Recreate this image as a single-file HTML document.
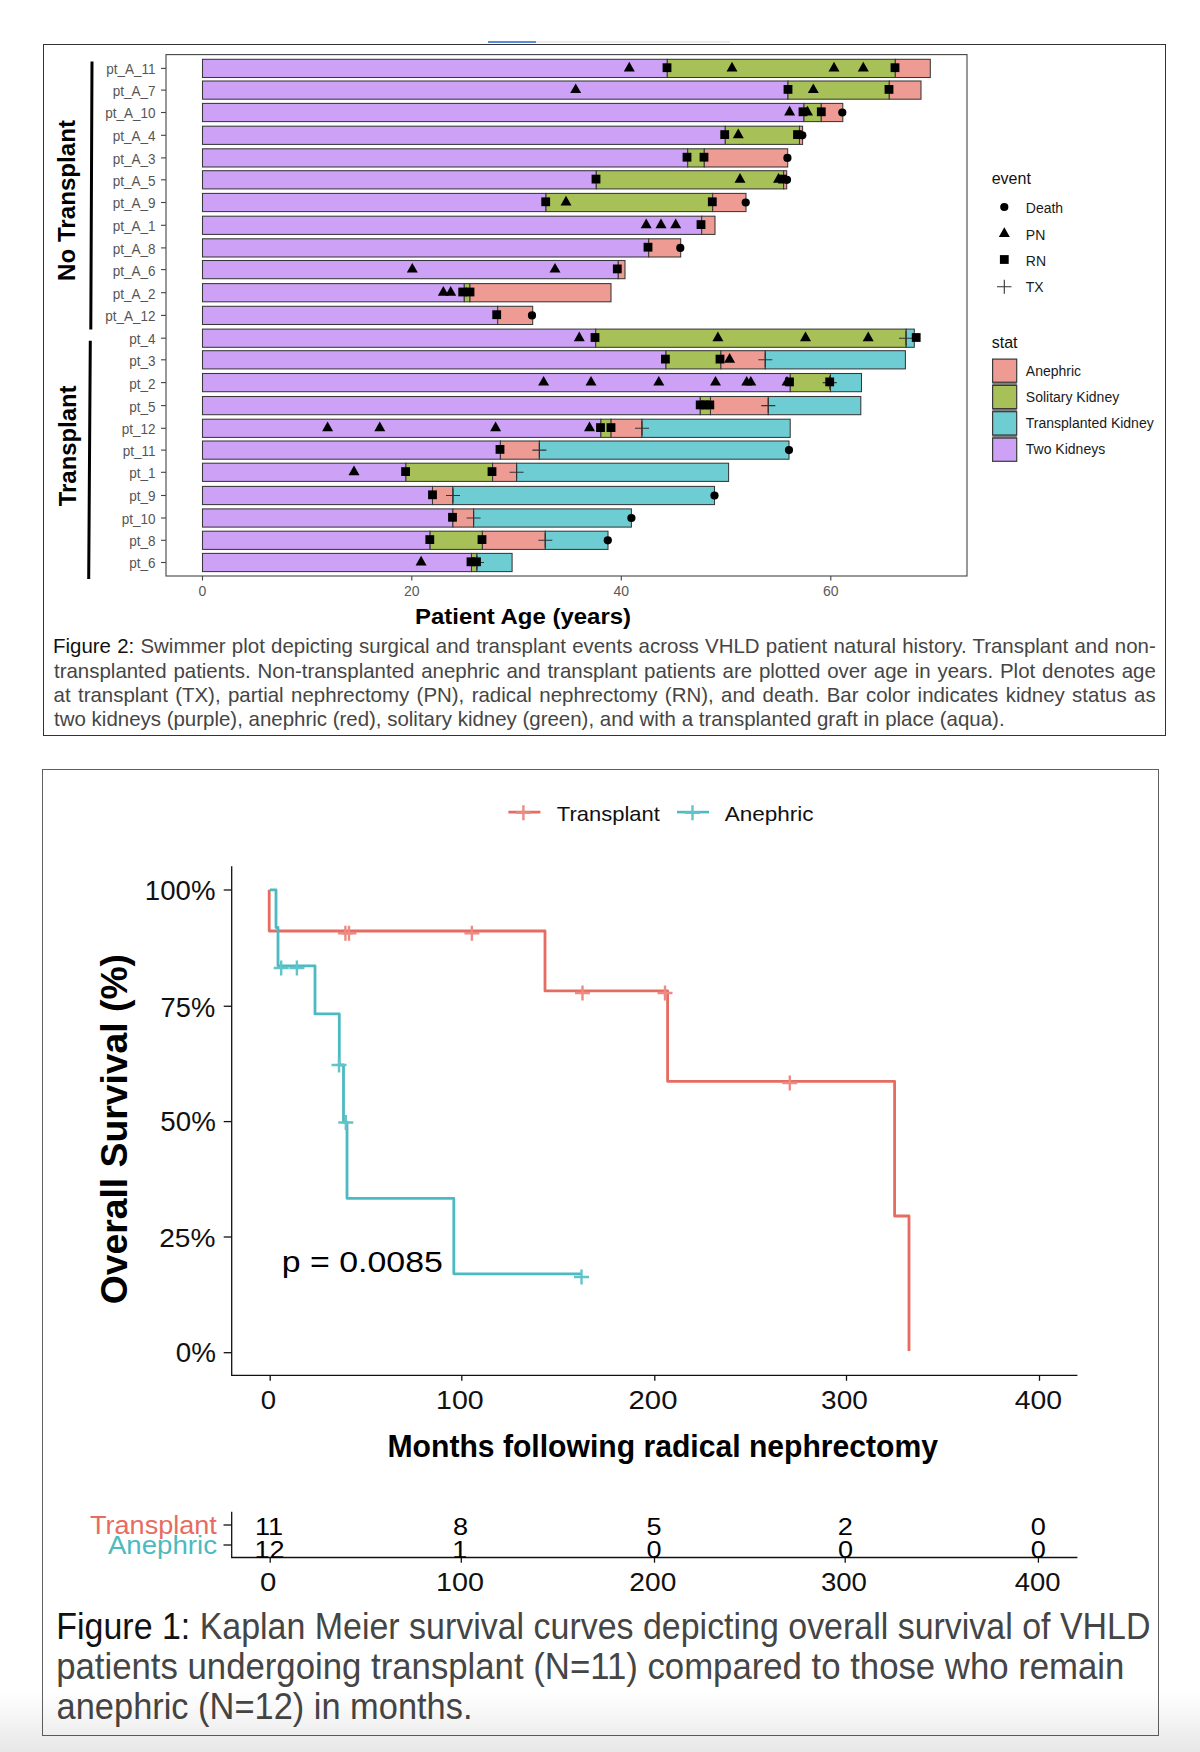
<!DOCTYPE html>
<html><head><meta charset="utf-8"><title>Figures</title>
<style>
html,body{margin:0;padding:0;background:#fff;}
body{width:1200px;height:1752px;position:relative;overflow:hidden;}
svg{position:absolute;left:0;top:0;}
text{font-family:"Liberation Sans",sans-serif;}
.yt{font-size:14px;fill:#555;}
.xt{font-size:14px;fill:#5a5a5a;}
.xtitle{font-size:22.6px;font-weight:bold;fill:#000;}
.grp{font-size:24px;font-weight:bold;fill:#000;}
.lt{font-size:16px;fill:#111;}
.ll{font-size:14px;fill:#1a1a1a;}
.kt{font-size:23px;fill:#111;}
.kl{font-size:21px;fill:#111;}
.pv{font-size:26.5px;fill:#000;}
.kxt{font-size:30px;font-weight:bold;fill:#000;}
.kyt{font-size:37px;font-weight:bold;fill:#000;}
.rl{font-size:25px;}
.rn{font-size:25px;fill:#000;}
.box{position:absolute;box-sizing:border-box;}
.capt{font-family:"Liberation Sans",sans-serif;fill:#454545;white-space:pre;}
.capb{fill:#111;}
</style></head><body>

<div class="box" style="left:488px;top:41px;width:48px;height:2px;background:#5a8fd8;"></div>
<div class="box" style="left:536px;top:41px;width:194px;height:1.5px;background:#ececec;"></div>
<div class="box" style="left:42.5px;top:43.5px;width:1123.5px;height:692.5px;border:1.4px solid #333;"></div>
<div class="box" style="left:42px;top:768.5px;width:1117.2px;height:967.5px;border:1.3px solid #606060;"></div>
<svg width="1200" height="1752" viewBox="0 0 1200 1752">
<rect x="166" y="54.6" width="801" height="521.4" fill="none" stroke="#444" stroke-width="1.1"/>
<rect x="202.5" y="59.3" width="464.8" height="18.2" fill="#cca1f6" stroke="#383838" stroke-width="1.05"/>
<rect x="667.3" y="59.3" width="228" height="18.2" fill="#a7c057" stroke="#383838" stroke-width="1.05"/>
<rect x="895.3" y="59.3" width="35" height="18.2" fill="#ee9c93" stroke="#383838" stroke-width="1.05"/>
<line x1="161" y1="68.4" x2="166" y2="68.4" stroke="#444" stroke-width="1.1"/>
<text transform="translate(155.6,74.3) scale(0.965,1)" text-anchor="end" class="yt">pt_A_11</text>
<rect x="202.5" y="81" width="585.5" height="18.2" fill="#cca1f6" stroke="#383838" stroke-width="1.05"/>
<rect x="788" y="81" width="101.3" height="18.2" fill="#a7c057" stroke="#383838" stroke-width="1.05"/>
<rect x="889.3" y="81" width="31.7" height="18.2" fill="#ee9c93" stroke="#383838" stroke-width="1.05"/>
<line x1="161" y1="90.1" x2="166" y2="90.1" stroke="#444" stroke-width="1.1"/>
<text transform="translate(155.6,96) scale(0.965,1)" text-anchor="end" class="yt">pt_A_7</text>
<rect x="202.5" y="103.4" width="601.5" height="18.2" fill="#cca1f6" stroke="#383838" stroke-width="1.05"/>
<rect x="804" y="103.4" width="17.3" height="18.2" fill="#a7c057" stroke="#383838" stroke-width="1.05"/>
<rect x="821.3" y="103.4" width="21.5" height="18.2" fill="#ee9c93" stroke="#383838" stroke-width="1.05"/>
<line x1="161" y1="112.5" x2="166" y2="112.5" stroke="#444" stroke-width="1.1"/>
<text transform="translate(155.6,118.4) scale(0.965,1)" text-anchor="end" class="yt">pt_A_10</text>
<rect x="202.5" y="126.2" width="522.8" height="18.2" fill="#cca1f6" stroke="#383838" stroke-width="1.05"/>
<rect x="725.3" y="126.2" width="74.2" height="18.2" fill="#a7c057" stroke="#383838" stroke-width="1.05"/>
<rect x="799.5" y="126.2" width="3.1" height="18.2" fill="#ee9c93" stroke="#383838" stroke-width="1.05"/>
<line x1="161" y1="135.3" x2="166" y2="135.3" stroke="#444" stroke-width="1.1"/>
<text transform="translate(155.6,141.2) scale(0.965,1)" text-anchor="end" class="yt">pt_A_4</text>
<rect x="202.5" y="148.8" width="485.2" height="18.2" fill="#cca1f6" stroke="#383838" stroke-width="1.05"/>
<rect x="687.7" y="148.8" width="16.6" height="18.2" fill="#a7c057" stroke="#383838" stroke-width="1.05"/>
<rect x="704.3" y="148.8" width="83.4" height="18.2" fill="#ee9c93" stroke="#383838" stroke-width="1.05"/>
<line x1="161" y1="157.9" x2="166" y2="157.9" stroke="#444" stroke-width="1.1"/>
<text transform="translate(155.6,163.8) scale(0.965,1)" text-anchor="end" class="yt">pt_A_3</text>
<rect x="202.5" y="170.7" width="393.8" height="18.2" fill="#cca1f6" stroke="#383838" stroke-width="1.05"/>
<rect x="596.3" y="170.7" width="187.3" height="18.2" fill="#a7c057" stroke="#383838" stroke-width="1.05"/>
<rect x="783.6" y="170.7" width="3.1" height="18.2" fill="#ee9c93" stroke="#383838" stroke-width="1.05"/>
<line x1="161" y1="179.8" x2="166" y2="179.8" stroke="#444" stroke-width="1.1"/>
<text transform="translate(155.6,185.7) scale(0.965,1)" text-anchor="end" class="yt">pt_A_5</text>
<rect x="202.5" y="193.4" width="343.5" height="18.2" fill="#cca1f6" stroke="#383838" stroke-width="1.05"/>
<rect x="546" y="193.4" width="166.7" height="18.2" fill="#a7c057" stroke="#383838" stroke-width="1.05"/>
<rect x="712.7" y="193.4" width="33.3" height="18.2" fill="#ee9c93" stroke="#383838" stroke-width="1.05"/>
<line x1="161" y1="202.5" x2="166" y2="202.5" stroke="#444" stroke-width="1.1"/>
<text transform="translate(155.6,208.4) scale(0.965,1)" text-anchor="end" class="yt">pt_A_9</text>
<rect x="202.5" y="216.2" width="499.2" height="18.2" fill="#cca1f6" stroke="#383838" stroke-width="1.05"/>
<rect x="701.7" y="216.2" width="13.3" height="18.2" fill="#ee9c93" stroke="#383838" stroke-width="1.05"/>
<line x1="161" y1="225.3" x2="166" y2="225.3" stroke="#444" stroke-width="1.1"/>
<text transform="translate(155.6,231.2) scale(0.965,1)" text-anchor="end" class="yt">pt_A_1</text>
<rect x="202.5" y="238.8" width="446.2" height="18.2" fill="#cca1f6" stroke="#383838" stroke-width="1.05"/>
<rect x="648.7" y="238.8" width="32" height="18.2" fill="#ee9c93" stroke="#383838" stroke-width="1.05"/>
<line x1="161" y1="247.9" x2="166" y2="247.9" stroke="#444" stroke-width="1.1"/>
<text transform="translate(155.6,253.8) scale(0.965,1)" text-anchor="end" class="yt">pt_A_8</text>
<rect x="202.5" y="260.5" width="415.8" height="18.2" fill="#cca1f6" stroke="#383838" stroke-width="1.05"/>
<rect x="618.3" y="260.5" width="6.7" height="18.2" fill="#ee9c93" stroke="#383838" stroke-width="1.05"/>
<line x1="161" y1="269.6" x2="166" y2="269.6" stroke="#444" stroke-width="1.1"/>
<text transform="translate(155.6,275.5) scale(0.965,1)" text-anchor="end" class="yt">pt_A_6</text>
<rect x="202.5" y="283.6" width="261.8" height="18.2" fill="#cca1f6" stroke="#383838" stroke-width="1.05"/>
<rect x="464.3" y="283.6" width="5.7" height="18.2" fill="#a7c057" stroke="#383838" stroke-width="1.05"/>
<rect x="470" y="283.6" width="141" height="18.2" fill="#ee9c93" stroke="#383838" stroke-width="1.05"/>
<line x1="161" y1="292.7" x2="166" y2="292.7" stroke="#444" stroke-width="1.1"/>
<text transform="translate(155.6,298.6) scale(0.965,1)" text-anchor="end" class="yt">pt_A_2</text>
<rect x="202.5" y="306.3" width="295.2" height="18.2" fill="#cca1f6" stroke="#383838" stroke-width="1.05"/>
<rect x="497.7" y="306.3" width="35" height="18.2" fill="#ee9c93" stroke="#383838" stroke-width="1.05"/>
<line x1="161" y1="315.4" x2="166" y2="315.4" stroke="#444" stroke-width="1.1"/>
<text transform="translate(155.6,321.3) scale(0.965,1)" text-anchor="end" class="yt">pt_A_12</text>
<rect x="202.5" y="329.1" width="393.2" height="18.2" fill="#cca1f6" stroke="#383838" stroke-width="1.05"/>
<rect x="595.7" y="329.1" width="310.5" height="18.2" fill="#a7c057" stroke="#383838" stroke-width="1.05"/>
<rect x="906.2" y="329.1" width="8.1" height="18.2" fill="#6dcdd3" stroke="#383838" stroke-width="1.05"/>
<line x1="161" y1="338.2" x2="166" y2="338.2" stroke="#444" stroke-width="1.1"/>
<text transform="translate(155.6,344.1) scale(0.965,1)" text-anchor="end" class="yt">pt_4</text>
<rect x="202.5" y="350.7" width="463.5" height="18.2" fill="#cca1f6" stroke="#383838" stroke-width="1.05"/>
<rect x="666" y="350.7" width="54.9" height="18.2" fill="#a7c057" stroke="#383838" stroke-width="1.05"/>
<rect x="720.9" y="350.7" width="44.4" height="18.2" fill="#ee9c93" stroke="#383838" stroke-width="1.05"/>
<rect x="765.3" y="350.7" width="140.1" height="18.2" fill="#6dcdd3" stroke="#383838" stroke-width="1.05"/>
<line x1="161" y1="359.8" x2="166" y2="359.8" stroke="#444" stroke-width="1.1"/>
<text transform="translate(155.6,365.7) scale(0.965,1)" text-anchor="end" class="yt">pt_3</text>
<rect x="202.5" y="373.5" width="587.8" height="18.2" fill="#cca1f6" stroke="#383838" stroke-width="1.05"/>
<rect x="790.3" y="373.5" width="40.2" height="18.2" fill="#a7c057" stroke="#383838" stroke-width="1.05"/>
<rect x="830.5" y="373.5" width="31" height="18.2" fill="#6dcdd3" stroke="#383838" stroke-width="1.05"/>
<line x1="161" y1="382.6" x2="166" y2="382.6" stroke="#444" stroke-width="1.1"/>
<text transform="translate(155.6,388.5) scale(0.965,1)" text-anchor="end" class="yt">pt_2</text>
<rect x="202.5" y="396.5" width="497.8" height="18.2" fill="#cca1f6" stroke="#383838" stroke-width="1.05"/>
<rect x="700.3" y="396.5" width="10.2" height="18.2" fill="#a7c057" stroke="#383838" stroke-width="1.05"/>
<rect x="710.5" y="396.5" width="57.8" height="18.2" fill="#ee9c93" stroke="#383838" stroke-width="1.05"/>
<rect x="768.3" y="396.5" width="92.5" height="18.2" fill="#6dcdd3" stroke="#383838" stroke-width="1.05"/>
<line x1="161" y1="405.6" x2="166" y2="405.6" stroke="#444" stroke-width="1.1"/>
<text transform="translate(155.6,411.5) scale(0.965,1)" text-anchor="end" class="yt">pt_5</text>
<rect x="202.5" y="419.2" width="398.4" height="18.2" fill="#cca1f6" stroke="#383838" stroke-width="1.05"/>
<rect x="600.9" y="419.2" width="10.2" height="18.2" fill="#a7c057" stroke="#383838" stroke-width="1.05"/>
<rect x="611.1" y="419.2" width="30.9" height="18.2" fill="#ee9c93" stroke="#383838" stroke-width="1.05"/>
<rect x="642" y="419.2" width="148.2" height="18.2" fill="#6dcdd3" stroke="#383838" stroke-width="1.05"/>
<line x1="161" y1="428.3" x2="166" y2="428.3" stroke="#444" stroke-width="1.1"/>
<text transform="translate(155.6,434.2) scale(0.965,1)" text-anchor="end" class="yt">pt_12</text>
<rect x="202.5" y="441" width="297.9" height="18.2" fill="#cca1f6" stroke="#383838" stroke-width="1.05"/>
<rect x="500.4" y="441" width="39" height="18.2" fill="#ee9c93" stroke="#383838" stroke-width="1.05"/>
<rect x="539.4" y="441" width="249.6" height="18.2" fill="#6dcdd3" stroke="#383838" stroke-width="1.05"/>
<line x1="161" y1="450.1" x2="166" y2="450.1" stroke="#444" stroke-width="1.1"/>
<text transform="translate(155.6,456) scale(0.965,1)" text-anchor="end" class="yt">pt_11</text>
<rect x="202.5" y="463.2" width="203.4" height="18.2" fill="#cca1f6" stroke="#383838" stroke-width="1.05"/>
<rect x="405.9" y="463.2" width="86.7" height="18.2" fill="#a7c057" stroke="#383838" stroke-width="1.05"/>
<rect x="492.6" y="463.2" width="24" height="18.2" fill="#ee9c93" stroke="#383838" stroke-width="1.05"/>
<rect x="516.6" y="463.2" width="212" height="18.2" fill="#6dcdd3" stroke="#383838" stroke-width="1.05"/>
<line x1="161" y1="472.3" x2="166" y2="472.3" stroke="#444" stroke-width="1.1"/>
<text transform="translate(155.6,478.2) scale(0.965,1)" text-anchor="end" class="yt">pt_1</text>
<rect x="202.5" y="486.4" width="230" height="18.2" fill="#cca1f6" stroke="#383838" stroke-width="1.05"/>
<rect x="432.5" y="486.4" width="20.4" height="18.2" fill="#ee9c93" stroke="#383838" stroke-width="1.05"/>
<rect x="452.9" y="486.4" width="261.6" height="18.2" fill="#6dcdd3" stroke="#383838" stroke-width="1.05"/>
<line x1="161" y1="495.5" x2="166" y2="495.5" stroke="#444" stroke-width="1.1"/>
<text transform="translate(155.6,501.4) scale(0.965,1)" text-anchor="end" class="yt">pt_9</text>
<rect x="202.5" y="508.9" width="250.4" height="18.2" fill="#cca1f6" stroke="#383838" stroke-width="1.05"/>
<rect x="452.9" y="508.9" width="20.7" height="18.2" fill="#ee9c93" stroke="#383838" stroke-width="1.05"/>
<rect x="473.6" y="508.9" width="157.8" height="18.2" fill="#6dcdd3" stroke="#383838" stroke-width="1.05"/>
<line x1="161" y1="518" x2="166" y2="518" stroke="#444" stroke-width="1.1"/>
<text transform="translate(155.6,523.9) scale(0.965,1)" text-anchor="end" class="yt">pt_10</text>
<rect x="202.5" y="531.2" width="227.6" height="18.2" fill="#cca1f6" stroke="#383838" stroke-width="1.05"/>
<rect x="430.1" y="531.2" width="52.3" height="18.2" fill="#a7c057" stroke="#383838" stroke-width="1.05"/>
<rect x="482.4" y="531.2" width="62.9" height="18.2" fill="#ee9c93" stroke="#383838" stroke-width="1.05"/>
<rect x="545.3" y="531.2" width="62.7" height="18.2" fill="#6dcdd3" stroke="#383838" stroke-width="1.05"/>
<line x1="161" y1="540.3" x2="166" y2="540.3" stroke="#444" stroke-width="1.1"/>
<text transform="translate(155.6,546.2) scale(0.965,1)" text-anchor="end" class="yt">pt_8</text>
<rect x="202.5" y="553.4" width="269" height="18.2" fill="#cca1f6" stroke="#383838" stroke-width="1.05"/>
<rect x="471.5" y="553.4" width="5.4" height="18.2" fill="#a7c057" stroke="#383838" stroke-width="1.05"/>
<rect x="476.9" y="553.4" width="35.2" height="18.2" fill="#6dcdd3" stroke="#383838" stroke-width="1.05"/>
<line x1="161" y1="562.5" x2="166" y2="562.5" stroke="#444" stroke-width="1.1"/>
<text transform="translate(155.6,568.4) scale(0.965,1)" text-anchor="end" class="yt">pt_6</text>
<path d="M623.8 71.4L629.3 61.7L634.8 71.4Z" fill="#000"/>
<rect x="662.6" y="63.3" width="8.8" height="8.8" fill="#000"/>
<path d="M726.5 71.4L732 61.7L737.5 71.4Z" fill="#000"/>
<path d="M828.5 71.4L834 61.7L839.5 71.4Z" fill="#000"/>
<path d="M857.8 71.4L863.3 61.7L868.8 71.4Z" fill="#000"/>
<rect x="890.6" y="63.3" width="8.8" height="8.8" fill="#000"/>
<path d="M570.2 93.1L575.7 83.4L581.2 93.1Z" fill="#000"/>
<rect x="783.6" y="85" width="8.8" height="8.8" fill="#000"/>
<path d="M807.8 93.1L813.3 83.4L818.8 93.1Z" fill="#000"/>
<rect x="884.6" y="85" width="8.8" height="8.8" fill="#000"/>
<path d="M784.1 115.5L789.6 105.8L795.1 115.5Z" fill="#000"/>
<rect x="798.6" y="107.4" width="8.8" height="8.8" fill="#000"/>
<path d="M802 115.5L807.5 105.8L813 115.5Z" fill="#000"/>
<rect x="816.9" y="107.4" width="8.8" height="8.8" fill="#000"/>
<circle cx="842.3" cy="112.5" r="4.1" fill="#000"/>
<rect x="720.3" y="130.2" width="8.8" height="8.8" fill="#000"/>
<path d="M732.8 138.3L738.3 128.6L743.8 138.3Z" fill="#000"/>
<rect x="793.1" y="130.2" width="8.8" height="8.8" fill="#000"/>
<circle cx="802.3" cy="135.3" r="4.1" fill="#000"/>
<rect x="682.6" y="152.8" width="8.8" height="8.8" fill="#000"/>
<rect x="699.6" y="152.8" width="8.8" height="8.8" fill="#000"/>
<circle cx="787.4" cy="157.9" r="4.1" fill="#000"/>
<rect x="591.6" y="174.7" width="8.8" height="8.8" fill="#000"/>
<path d="M734.5 182.8L740 173.1L745.5 182.8Z" fill="#000"/>
<path d="M773 182.8L778.5 173.1L784 182.8Z" fill="#000"/>
<rect x="778.1" y="174.7" width="8.8" height="8.8" fill="#000"/>
<circle cx="787" cy="179.8" r="4.1" fill="#000"/>
<rect x="541.3" y="197.4" width="8.8" height="8.8" fill="#000"/>
<path d="M560.5 205.5L566 195.8L571.5 205.5Z" fill="#000"/>
<rect x="707.9" y="197.4" width="8.8" height="8.8" fill="#000"/>
<circle cx="745.7" cy="202.5" r="4.1" fill="#000"/>
<path d="M640.7 228.3L646.2 218.6L651.7 228.3Z" fill="#000"/>
<path d="M655.5 228.3L661 218.6L666.5 228.3Z" fill="#000"/>
<path d="M670.2 228.3L675.7 218.6L681.2 228.3Z" fill="#000"/>
<rect x="696.6" y="220.2" width="8.8" height="8.8" fill="#000"/>
<rect x="643.6" y="242.8" width="8.8" height="8.8" fill="#000"/>
<circle cx="680.3" cy="247.9" r="4.1" fill="#000"/>
<path d="M406.8 272.6L412.3 262.9L417.8 272.6Z" fill="#000"/>
<path d="M549.5 272.6L555 262.9L560.5 272.6Z" fill="#000"/>
<rect x="612.9" y="264.5" width="8.8" height="8.8" fill="#000"/>
<path d="M437.8 295.7L443.3 286L448.8 295.7Z" fill="#000"/>
<path d="M445.2 295.7L450.7 286L456.2 295.7Z" fill="#000"/>
<rect x="458.3" y="287.6" width="8.8" height="8.8" fill="#000"/>
<rect x="465.6" y="287.6" width="8.8" height="8.8" fill="#000"/>
<rect x="492.3" y="310.3" width="8.8" height="8.8" fill="#000"/>
<circle cx="532" cy="315.4" r="4.1" fill="#000"/>
<path d="M899 338.2H913M906 331.2V345.2" stroke="#333" stroke-width="1.1" fill="none"/>
<path d="M573.8 341.2L579.3 331.5L584.8 341.2Z" fill="#000"/>
<rect x="590.6" y="333.1" width="8.8" height="8.8" fill="#000"/>
<path d="M712.4 341.2L717.9 331.5L723.4 341.2Z" fill="#000"/>
<path d="M800 341.2L805.5 331.5L811 341.2Z" fill="#000"/>
<path d="M862.7 341.2L868.2 331.5L873.7 341.2Z" fill="#000"/>
<rect x="911.8" y="333.1" width="8.8" height="8.8" fill="#000"/>
<path d="M758.3 359.8H772.3M765.3 352.8V366.8" stroke="#333" stroke-width="1.1" fill="none"/>
<rect x="661" y="354.7" width="8.8" height="8.8" fill="#000"/>
<rect x="715.6" y="354.7" width="8.8" height="8.8" fill="#000"/>
<path d="M724.1 362.8L729.6 353.1L735.1 362.8Z" fill="#000"/>
<path d="M822.7 382.6H836.7M829.7 375.6V389.6" stroke="#333" stroke-width="1.1" fill="none"/>
<path d="M538.1 385.6L543.6 375.9L549.1 385.6Z" fill="#000"/>
<path d="M585.5 385.6L591 375.9L596.5 385.6Z" fill="#000"/>
<path d="M653.3 385.6L658.8 375.9L664.3 385.6Z" fill="#000"/>
<path d="M710 385.6L715.5 375.9L721 385.6Z" fill="#000"/>
<path d="M741.2 385.6L746.7 375.9L752.2 385.6Z" fill="#000"/>
<path d="M745.3 385.6L750.8 375.9L756.3 385.6Z" fill="#000"/>
<path d="M781.5 385.6L787 375.9L792.5 385.6Z" fill="#000"/>
<rect x="785.1" y="377.5" width="8.8" height="8.8" fill="#000"/>
<rect x="825.3" y="377.5" width="8.8" height="8.8" fill="#000"/>
<path d="M761.3 405.6H775.3M768.3 398.6V412.6" stroke="#333" stroke-width="1.1" fill="none"/>
<rect x="695.8" y="400.5" width="8.8" height="8.8" fill="#000"/>
<rect x="700.6" y="400.5" width="8.8" height="8.8" fill="#000"/>
<rect x="705.4" y="400.5" width="8.8" height="8.8" fill="#000"/>
<path d="M635 428.3H649M642 421.3V435.3" stroke="#333" stroke-width="1.1" fill="none"/>
<path d="M322.1 431.3L327.6 421.6L333.1 431.3Z" fill="#000"/>
<path d="M374.3 431.3L379.8 421.6L385.3 431.3Z" fill="#000"/>
<path d="M490.1 431.3L495.6 421.6L501.1 431.3Z" fill="#000"/>
<path d="M584 431.3L589.5 421.6L595 431.3Z" fill="#000"/>
<rect x="596.1" y="423.2" width="8.8" height="8.8" fill="#000"/>
<rect x="606.6" y="423.2" width="8.8" height="8.8" fill="#000"/>
<path d="M532.4 450.1H546.4M539.4 443.1V457.1" stroke="#333" stroke-width="1.1" fill="none"/>
<rect x="495.6" y="445" width="8.8" height="8.8" fill="#000"/>
<circle cx="789" cy="450.1" r="4.1" fill="#000"/>
<path d="M509.6 472.3H523.6M516.6 465.3V479.3" stroke="#333" stroke-width="1.1" fill="none"/>
<path d="M348.5 475.3L354 465.6L359.5 475.3Z" fill="#000"/>
<rect x="401.2" y="467.2" width="8.8" height="8.8" fill="#000"/>
<rect x="487.6" y="467.2" width="8.8" height="8.8" fill="#000"/>
<path d="M446 495.5H460M453 488.5V502.5" stroke="#333" stroke-width="1.1" fill="none"/>
<rect x="428.1" y="490.4" width="8.8" height="8.8" fill="#000"/>
<circle cx="714.5" cy="495.5" r="4.1" fill="#000"/>
<path d="M466.6 518H480.6M473.6 511V525" stroke="#333" stroke-width="1.1" fill="none"/>
<rect x="448.1" y="512.9" width="8.8" height="8.8" fill="#000"/>
<circle cx="631.4" cy="518" r="4.1" fill="#000"/>
<path d="M538.3 540.3H552.3M545.3 533.3V547.3" stroke="#333" stroke-width="1.1" fill="none"/>
<rect x="425.4" y="535.2" width="8.8" height="8.8" fill="#000"/>
<rect x="477.6" y="535.2" width="8.8" height="8.8" fill="#000"/>
<circle cx="607.8" cy="540.3" r="4.1" fill="#000"/>
<path d="M470 562.5H484M477 555.5V569.5" stroke="#333" stroke-width="1.1" fill="none"/>
<path d="M415.6 565.5L421.1 555.8L426.6 565.5Z" fill="#000"/>
<rect x="466.6" y="557.4" width="8.8" height="8.8" fill="#000"/>
<rect x="472.1" y="557.4" width="8.8" height="8.8" fill="#000"/>
<line x1="202.5" y1="576" x2="202.5" y2="580.5" stroke="#444" stroke-width="1.1"/>
<text x="202.5" y="596" text-anchor="middle" class="xt">0</text>
<line x1="411.8" y1="576" x2="411.8" y2="580.5" stroke="#444" stroke-width="1.1"/>
<text x="411.8" y="596" text-anchor="middle" class="xt">20</text>
<line x1="621.3" y1="576" x2="621.3" y2="580.5" stroke="#444" stroke-width="1.1"/>
<text x="621.3" y="596" text-anchor="middle" class="xt">40</text>
<line x1="830.8" y1="576" x2="830.8" y2="580.5" stroke="#444" stroke-width="1.1"/>
<text x="830.8" y="596" text-anchor="middle" class="xt">60</text>
<text x="415" y="623.6" class="xtitle" textLength="216" lengthAdjust="spacingAndGlyphs">Patient Age (years)</text>
<text transform="translate(74.8,281) rotate(-90)" class="grp" textLength="161" lengthAdjust="spacingAndGlyphs">No Transplant</text>
<text transform="translate(75.6,506.2) rotate(-90)" class="grp" textLength="120.7" lengthAdjust="spacingAndGlyphs">Transplant</text>
<path d="M92 61.5L90.8 329.6M90.3 340.8L88.7 579" stroke="#000" stroke-width="3" fill="none"/>
<text x="991.7" y="184.2" class="lt">event</text>
<circle cx="1004.3" cy="207" r="4.1" fill="#000"/>
<text x="1025.8" y="213.4" class="ll">Death</text>
<path d="M998.8 237L1004.3 227.3L1009.8 237Z" fill="#000"/>
<text x="1025.8" y="240.1" class="ll">PN</text>
<rect x="999.9" y="255.1" width="8.8" height="8.8" fill="#000"/>
<text x="1025.8" y="265.9" class="ll">RN</text>
<path d="M997 286.7H1011.5M1004.3 279.7V293.7" stroke="#333" stroke-width="1.1" fill="none"/>
<text x="1025.8" y="291.8" class="ll">TX</text>
<text x="991.7" y="348.3" class="lt">stat</text>
<rect x="992.3" y="382" width="24.6" height="56" fill="#808080"/>
<rect x="992.6" y="359.1" width="24.1" height="23.1" fill="#ee9c93" stroke="#3a3a3a" stroke-width="1.2"/>
<text x="1025.8" y="376.4" class="ll">Anephric</text>
<rect x="992.6" y="385.4" width="24.1" height="23.2" fill="#a7c057" stroke="#3a3a3a" stroke-width="1.2"/>
<text x="1025.8" y="401.5" class="ll">Solitary Kidney</text>
<rect x="992.6" y="411.7" width="24.1" height="23.3" fill="#6dcdd3" stroke="#3a3a3a" stroke-width="1.2"/>
<text x="1025.8" y="427.5" class="ll">Transplanted Kidney</text>
<rect x="992.6" y="438.1" width="24.1" height="23.2" fill="#cca1f6" stroke="#3a3a3a" stroke-width="1.2"/>
<text x="1025.8" y="453.85" class="ll">Two Kidneys</text>
<path d="M231.7 866.2V1375.4H1077.4" stroke="#111" stroke-width="1.3" fill="none"/>
<line x1="223.7" y1="890" x2="231.7" y2="890" stroke="#111" stroke-width="1.3"/>
<text id="ky0" transform="translate(144.86,899.52) scale(0.9869,1)" class="kt" style="font-size:27.978px">100%</text>
<line x1="223.7" y1="1006.25" x2="231.7" y2="1006.25" stroke="#111" stroke-width="1.3"/>
<text id="ky1" transform="translate(160.58,1016.57) scale(0.9751,1)" class="kt" style="font-size:27.978px">75%</text>
<line x1="223.7" y1="1121.6" x2="231.7" y2="1121.6" stroke="#111" stroke-width="1.3"/>
<text id="ky2" transform="translate(160.35,1131.07) scale(0.9898,1)" class="kt" style="font-size:27.978px">50%</text>
<line x1="223.7" y1="1237" x2="231.7" y2="1237" stroke="#111" stroke-width="1.3"/>
<text id="ky3" transform="translate(159.14,1246.53) scale(1.0577,1)" class="kt" style="font-size:26.579px">25%</text>
<line x1="223.7" y1="1352.7" x2="231.7" y2="1352.7" stroke="#111" stroke-width="1.3"/>
<text id="ky4" transform="translate(175.86,1362.24) scale(0.9946,1)" class="kt" style="font-size:27.978px">0%</text>
<line x1="270.2" y1="1375.4" x2="270.2" y2="1380.8" stroke="#111" stroke-width="1.3"/>
<text id="kx0" transform="translate(260.66,1409.46) scale(1.0546,1)" class="kt" style="font-size:26.137px">0</text>
<line x1="461.8" y1="1375.4" x2="461.8" y2="1380.8" stroke="#111" stroke-width="1.3"/>
<text id="kx1" transform="translate(436.02,1409.46) scale(1.0926,1)" class="kt" style="font-size:26.137px">100</text>
<line x1="654.8" y1="1375.4" x2="654.8" y2="1380.8" stroke="#111" stroke-width="1.3"/>
<text id="kx2" transform="translate(628.57,1409.46) scale(1.1214,1)" class="kt" style="font-size:26.137px">200</text>
<line x1="846.5" y1="1375.4" x2="846.5" y2="1380.8" stroke="#111" stroke-width="1.3"/>
<text id="kx3" transform="translate(821.09,1409.46) scale(1.0705,1)" class="kt" style="font-size:26.137px">300</text>
<line x1="1039.5" y1="1375.4" x2="1039.5" y2="1380.8" stroke="#111" stroke-width="1.3"/>
<text id="kx4" transform="translate(1014.77,1409.46) scale(1.0847,1)" class="kt" style="font-size:26.137px">400</text>
<path d="M269.2 889.8V931H545V990.9H667.6V1081.3H894.6V1216H909V1351" stroke="#e66c62" stroke-width="2.8" fill="none" stroke-linejoin="round"/>
<path d="M269.8 889.8H276V927.5H278V965.8H315V1013.9H339.3V1065H343.5V1122.2H347V1198.3H453.8V1273.8H581.5" stroke="#4cbac0" stroke-width="2.8" fill="none" stroke-linejoin="round"/>
<path d="M337.9 933.3H352.9M345.4 925.8V940.8" stroke="#ec8a83" stroke-width="2.4" fill="none"/>
<path d="M341.5 933.3H356.5M349 925.8V940.8" stroke="#ec8a83" stroke-width="2.4" fill="none"/>
<path d="M464.4 933.3H479.4M471.9 925.8V940.8" stroke="#ec8a83" stroke-width="2.4" fill="none"/>
<path d="M575 993H590M582.5 985.5V1000.5" stroke="#ec8a83" stroke-width="2.4" fill="none"/>
<path d="M657.5 993H672.5M665 985.5V1000.5" stroke="#ec8a83" stroke-width="2.4" fill="none"/>
<path d="M782.3 1083H797.3M789.8 1075.5V1090.5" stroke="#ec8a83" stroke-width="2.4" fill="none"/>
<path d="M273.7 968H288.7M281.2 960.5V975.5" stroke="#62c4c9" stroke-width="2.4" fill="none"/>
<path d="M289.4 968H304.4M296.9 960.5V975.5" stroke="#62c4c9" stroke-width="2.4" fill="none"/>
<path d="M331.5 1065H346.5M339 1057.5V1072.5" stroke="#62c4c9" stroke-width="2.4" fill="none"/>
<path d="M338.3 1122.5H353.3M345.8 1115V1130" stroke="#62c4c9" stroke-width="2.4" fill="none"/>
<path d="M574 1277H589M581.5 1269.5V1284.5" stroke="#62c4c9" stroke-width="2.4" fill="none"/>
<text id="pv" transform="translate(281.86,1271.69) scale(1.1386,1)" class="pv" style="font-size:29.744px">p = 0.0085</text>
<path d="M508.4 812.1H540.4" stroke="#e66c62" stroke-width="2.6"/><path d="M515.9 812.8H530.9M523.4 805.3V820.3" stroke="#ec8a83" stroke-width="2.4" fill="none"/>
<path d="M677 812.1H709" stroke="#4cbac0" stroke-width="2.6"/><path d="M685 812.8H700M692.5 805.3V820.3" stroke="#62c4c9" stroke-width="2.4" fill="none"/>
<text id="kl0" transform="translate(556.83,820.72) scale(1.0969,1)" class="kl" style="font-size:20.051px">Transplant</text>
<text id="kl1" transform="translate(724.73,820.72) scale(1.1234,1)" class="kl" style="font-size:20.051px">Anephric</text>
<text id="kxt" transform="translate(387.5,1456.9) scale(0.9881,1)" class="kxt" style="font-size:30.500px">Months following radical nephrectomy</text>
<text transform="translate(126.5,1304.3) rotate(-90)" class="kyt" textLength="350.3" lengthAdjust="spacingAndGlyphs">Overall Survival (%)</text>
<path d="M231.7 1511.7V1557.5H1077.4" stroke="#111" stroke-width="1.3" fill="none"/>
<line x1="223.5" y1="1525" x2="231.7" y2="1525" stroke="#111" stroke-width="1.3"/>
<line x1="223.5" y1="1545" x2="231.7" y2="1545" stroke="#111" stroke-width="1.3"/>
<text id="rl0" transform="translate(90,1534.3) scale(1.0835,1)" class="rl" style="font-size:25.000px" fill="#e66c62">Transplant</text>
<text id="rl1" transform="translate(107.94,1554) scale(1.1060,1)" class="rl" style="font-size:25.000px" fill="#4cbac0">Anephric</text>
<text id="ra0" transform="translate(254.89,1535.49) scale(1.1200,1)" class="rn" style="font-size:24.211px">11</text>
<text id="rb0" transform="translate(254.51,1558.31) scale(1.1200,1)" class="rn" style="font-size:24.211px">12</text>
<text id="ra1" transform="translate(453.08,1535.49) scale(1.1200,1)" class="rn" style="font-size:24.211px">8</text>
<text id="rb1" transform="translate(452.29,1558.31) scale(1.1200,1)" class="rn" style="font-size:24.211px">1</text>
<text id="ra2" transform="translate(646.53,1535.49) scale(1.1200,1)" class="rn" style="font-size:24.211px">5</text>
<text id="rb2" transform="translate(646.53,1558.31) scale(1.1200,1)" class="rn" style="font-size:24.211px">0</text>
<text id="ra3" transform="translate(837.86,1535.49) scale(1.1200,1)" class="rn" style="font-size:24.211px">2</text>
<text id="rb3" transform="translate(837.92,1558.31) scale(1.1200,1)" class="rn" style="font-size:24.211px">0</text>
<text id="ra4" transform="translate(1030.81,1535.49) scale(1.1200,1)" class="rn" style="font-size:24.211px">0</text>
<text id="rb4" transform="translate(1030.81,1558.31) scale(1.1200,1)" class="rn" style="font-size:24.211px">0</text>
<line x1="270.2" y1="1557.5" x2="270.2" y2="1562.7" stroke="#111" stroke-width="1.3"/>
<text id="rx0" transform="translate(259.98,1591.29) scale(1.1569,1)" class="kt" style="font-size:25.412px">0</text>
<line x1="461.3" y1="1557.5" x2="461.3" y2="1562.7" stroke="#111" stroke-width="1.3"/>
<text id="rx1" transform="translate(436,1591.29) scale(1.1333,1)" class="kt" style="font-size:25.412px">100</text>
<line x1="654.5" y1="1557.5" x2="654.5" y2="1562.7" stroke="#111" stroke-width="1.3"/>
<text id="rx2" transform="translate(629.37,1591.29) scale(1.1067,1)" class="kt" style="font-size:25.412px">200</text>
<line x1="845.2" y1="1557.5" x2="845.2" y2="1562.7" stroke="#111" stroke-width="1.3"/>
<text id="rx3" transform="translate(820.92,1591.29) scale(1.0859,1)" class="kt" style="font-size:25.412px">300</text>
<line x1="1038.4" y1="1557.5" x2="1038.4" y2="1562.7" stroke="#111" stroke-width="1.3"/>
<text id="rx4" transform="translate(1014.78,1591.29) scale(1.0811,1)" class="kt" style="font-size:25.412px">400</text>
</svg>
<svg width="1200" height="1752" viewBox="0 0 1200 1752">
<text id="c2_0" class="capt" transform="translate(52.98,653.3) scale(1.0232,1)" style="font-size:20px;word-spacing:0.5217px"><tspan class="capb">Figure 2:</tspan> Swimmer plot depicting surgical and transplant events across VHLD patient natural history. Transplant and non-</text>
<text id="c2_1" class="capt" transform="translate(54,677.5) scale(1.0232,1)" style="font-size:20px;word-spacing:1.1231px">transplanted patients. Non-transplanted anephric and transplant patients are plotted over age in years. Plot denotes age</text>
<text id="c2_2" class="capt" transform="translate(53.59,701.7) scale(1.0232,1)" style="font-size:20px;word-spacing:1.6404px">at transplant (TX), partial nephrectomy (PN), radical nephrectomy (RN), and death. Bar color indicates kidney status as</text>
<text id="c2_3" class="capt" transform="translate(54.11,725.9) scale(1.0237,1)" style="font-size:20px;word-spacing:0.0000px">two kidneys (purple), anephric (red), solitary kidney (green), and with a transplanted graft in place (aqua).</text>
<text id="c1_0" class="capt" transform="translate(56.31,1638.6) scale(0.9175,1)" style="font-size:37px;word-spacing:0.0000px"><tspan class="capb">Figure 1:</tspan> Kaplan Meier survival curves depicting overall survival of VHLD</text>
<text id="c1_1" class="capt" transform="translate(56.2,1678.7) scale(0.9395,1)" style="font-size:37px;word-spacing:0.0000px">patients undergoing transplant (N=11) compared to those who remain</text>
<text id="c1_2" class="capt" transform="translate(56.6,1718.8) scale(0.9300,1)" style="font-size:37px;word-spacing:0.0000px">anephric (N=12) in months.</text>
</svg>
<div class="box" style="left:0;top:1692px;width:1200px;height:60px;background:linear-gradient(to bottom,rgba(0,0,0,0),rgba(0,0,0,0.095));"></div>
</body></html>
